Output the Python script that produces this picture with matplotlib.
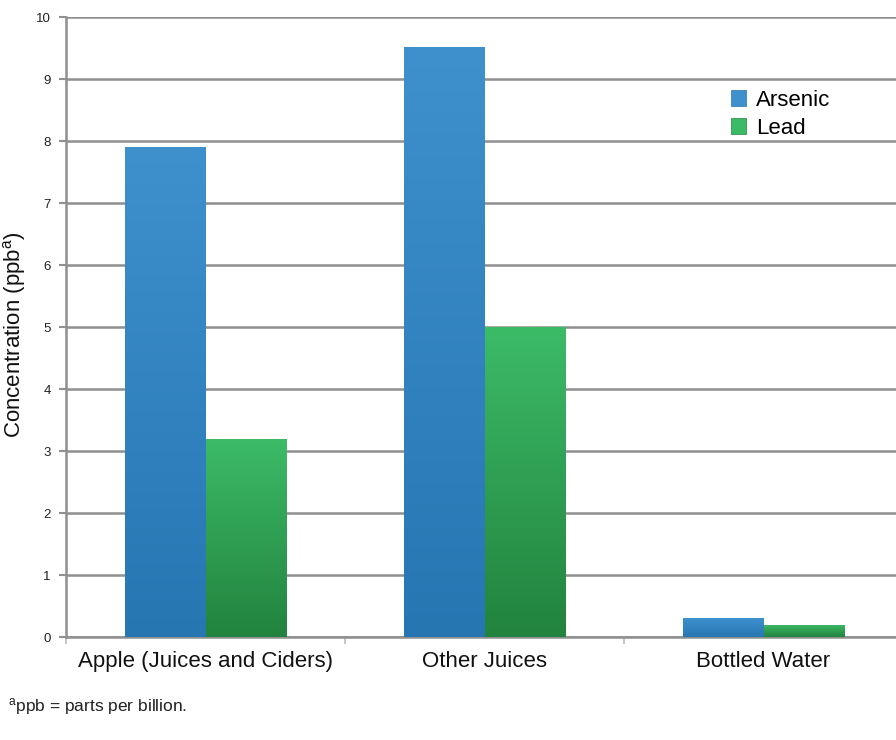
import matplotlib
matplotlib.use("Agg")
import matplotlib.pyplot as plt
import numpy as np
from matplotlib.colors import LinearSegmentedColormap
from matplotlib.patches import Patch

plt.rcParams['font.family'] = ['Liberation Sans', 'DejaVu Sans']
plt.rcParams['mathtext.fontset'] = 'custom'
plt.rcParams['mathtext.rm'] = 'Liberation Sans'
plt.rcParams['mathtext.it'] = 'Liberation Sans'

categories = ["Apple (Juices and Ciders)", "Other Juices", "Bottled Water"]
arsenic = [7.9, 9.52, 0.3]
lead = [3.2, 5.0, 0.2]
series_names = ["Arsenic", "Lead"]
yticks = list(range(0, 11))

blue_top, blue_bot = "#3e91cd", "#2676b2"
green_top, green_bot = "#3cbb67", "#22833e"

fig = plt.figure(figsize=(8.96, 7.4), dpi=100)
ax = fig.add_axes([66/896, 1-637/740, 837/896, 620/740])

x = np.arange(len(categories))
w = 0.287
grid_c = "#8f8f8f"

def gradient_bars(xpos, vals, top, bot):
    bars = ax.bar(xpos, vals, width=w, color=top, linewidth=0, zorder=3)
    cmap = LinearSegmentedColormap.from_list("g", [bot, top])
    grad = np.linspace(0, 1, 256).reshape(-1, 1)
    for b in bars:
        x0, y0 = b.get_x(), b.get_y()
        bw, bh = b.get_width(), b.get_height()
        im = ax.imshow(grad, cmap=cmap, origin="lower", aspect="auto",
                       extent=[x0, x0 + bw, y0, y0 + bh], zorder=4)
        im.set_clip_path(b)
    return bars

gradient_bars(x - w/2, arsenic, blue_top, blue_bot)
gradient_bars(x + w/2, lead, green_top, green_bot)

ax.set_xlim(-0.5, 2.5)
ax.set_ylim(0, 10)
ax.set_yticks(yticks)
ax.set_yticklabels([str(t) for t in yticks], fontsize=9.5, color="#222222")
ax.yaxis.grid(True, color=grid_c, linewidth=1.8, zorder=0)
ax.set_axisbelow(True)
ax.tick_params(axis='y', length=5, width=1.5, color=grid_c, pad=6)

ax.set_xticks(x)
ax.set_xticklabels(categories, fontsize=16, color="#111111")
ax.tick_params(axis='x', length=0, pad=10)
ax.set_xticks([-0.5, 0.5, 1.5, 2.5], minor=True)
ax.tick_params(axis='x', which='minor', length=5, width=1.2, color="#bbbbbb")

for s in ["top", "right"]:
    ax.spines[s].set_visible(False)
ax.spines["left"].set_color(grid_c)
ax.spines["left"].set_linewidth(1.8)
ax.spines["bottom"].set_color(grid_c)
ax.spines["bottom"].set_linewidth(1.8)

ax.set_ylabel("Concentration (ppb$^{\\mathrm{a}}$)", fontsize=16, color="#111111")
ax.yaxis.set_label_coords((28 - 66) / 837, (637 - 335) / 620)

handles = [Patch(facecolor=blue_top, edgecolor=blue_bot, linewidth=0.5),
           Patch(facecolor=green_top, edgecolor=green_bot, linewidth=0.5)]
ax.legend(handles, series_names, loc="upper left", bbox_to_anchor=((722-66)/837, (637-81)/620),
          frameon=False, fontsize=16, handlelength=0.7, handleheight=0.7,
          handletextpad=0.45, labelspacing=0.3, borderaxespad=0)

fig.text(8/896, 1-706/740, "$^{\\mathrm{a}}$ppb = parts per billion.", fontsize=12.5,
         family=['Liberation Sans Narrow', 'Liberation Sans', 'DejaVu Sans'],
         color="#222222", va="center", ha="left")

fig.savefig("out.png", dpi=100)
